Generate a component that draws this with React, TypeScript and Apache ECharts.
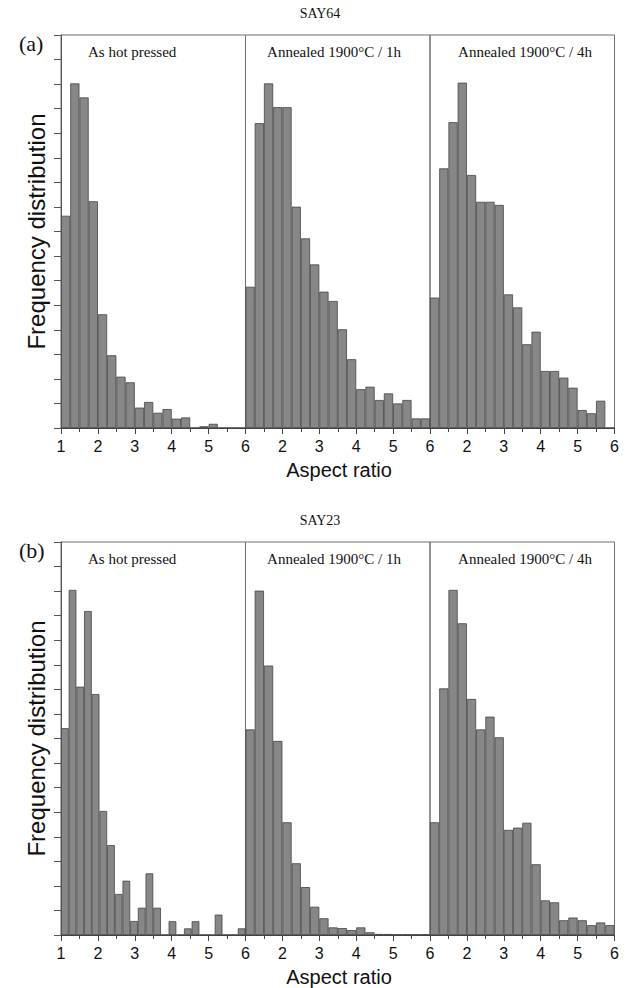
import React, { useEffect, useRef } from "react";
import * as echarts from "echarts";

// ---------- data ----------
const X_MIN = 1;
const X_MAX = 6;
const X_TICK_STEP = 1;
const Y_MAX = 16; // tick intervals on the frequency axis (no labels)

const sampleNames = ["SAY64", "SAY23"];
const panelLetters = ["(a)", "(b)"];
const panelTitles = ["As hot pressed", "Annealed 1900°C / 1h", "Annealed 1900°C / 4h"];
const xAxisName = "Aspect ratio";
const yAxisName = "Frequency distribution";

// bin widths per panel (aspect-ratio units)
const binWidthsA = [0.25, 0.25, 0.25];
const binWidthsB = [5 / 24, 0.25, 0.25];

// SAY64 (a)
const a_hotPressed = [8.64, 14.03, 13.46, 9.23, 4.63, 2.96, 2.09, 1.86, 0.83, 1.06, 0.62, 0.77, 0.38, 0.43, 0, 0.07, 0.17, 0, 0, 0];
const a_annealed1h = [5.75, 12.41, 14.03, 13.06, 13.06, 9.01, 7.72, 6.66, 5.55, 5.17, 4.02, 2.8, 1.58, 1.68, 1.14, 1.41, 1.0, 1.14, 0.39, 0.39];
const a_annealed4h = [5.31, 10.57, 12.45, 14.06, 10.3, 9.21, 9.21, 9.08, 5.44, 4.91, 3.41, 3.92, 2.32, 2.32, 2.05, 1.64, 0.73, 0.6, 1.11, 0];

// SAY23 (b)
const b_hotPressed = [8.42, 14.05, 10.11, 13.19, 9.81, 5.05, 3.66, 1.67, 2.21, 0.57, 1.11, 2.51, 1.11, 0, 0.56, 0, 0.27, 0.56, 0, 0, 0.83, 0, 0, 0.27];
const b_annealed1h = [8.37, 14.02, 10.97, 7.9, 4.59, 2.92, 1.95, 1.15, 0.68, 0.31, 0.28, 0.2, 0.31, 0.11, 0.04, 0.04, 0.02, 0.02, 0.02, 0.02];
const b_annealed4h = [4.59, 10.04, 14.05, 12.69, 9.61, 8.37, 8.89, 8.05, 4.28, 4.37, 4.57, 2.88, 1.41, 1.33, 0.6, 0.71, 0.6, 0.4, 0.51, 0.4];

const rowsData = [
  [a_hotPressed, a_annealed1h, a_annealed4h],
  [b_hotPressed, b_annealed1h, b_annealed4h],
];
const rowsBinWidths = [binWidthsA, binWidthsB];

// ---------- layout ----------
const PANEL_LEFT = [61, 245.5, 430];
const PANEL_W = 184.5;
const ROW_TOP = [35, 542];
const ROW_H = 393;

const SANS = "'Liberation Sans', Arial, sans-serif";
const SERIF = "'Liberation Serif', 'Times New Roman', serif";

function binLabels(n: number, w: number) {
  return Array.from({ length: n }, (_, i) => (X_MIN + i * w).toFixed(3));
}

export default function App() {
  const ref = useRef<HTMLDivElement>(null);

  useEffect(() => {
    if (!ref.current) return;
    const chart = echarts.init(ref.current, null, { renderer: "svg" });

    const grid: any[] = [];
    const xAxis: any[] = [];
    const yAxis: any[] = [];
    const series: any[] = [];
    const graphic: any[] = [];

    rowsData.forEach((row, r) => {
      row.forEach((vals, p) => {
        const g = r * 3 + p;
        grid.push({
          left: PANEL_LEFT[p],
          top: ROW_TOP[r],
          width: PANEL_W,
          height: ROW_H,
          show: true,
          borderColor: "#6e6e6e",
          borderWidth: 1,
          backgroundColor: "transparent",
        });
        xAxis.push({
          gridIndex: g,
          type: "category",
          data: binLabels(vals.length, rowsBinWidths[r][p]),
          show: false,
          boundaryGap: true,
        });
        xAxis.push({
          gridIndex: g,
          type: "value",
          min: X_MIN,
          max: X_MAX,
          interval: X_TICK_STEP,
          position: "bottom",
          axisLine: { show: true, lineStyle: { color: "#444", width: 1 } },
          axisTick: { show: true, length: 6, lineStyle: { color: "#444" } },
          minorTick: { show: true, splitNumber: 2, length: 4, lineStyle: { color: "#444" } },
          splitLine: { show: false },
          axisLabel: {
            show: true,
            showMinLabel: p === 0,
            fontSize: 16,
            color: "#111",
            fontFamily: SANS,
            margin: 10,
          },
        });
        yAxis.push({
          gridIndex: g,
          type: "value",
          min: 0,
          max: Y_MAX,
          interval: 1,
          show: p === 0,
          axisLine: { show: true, lineStyle: { color: "#555", width: 1 } },
          axisTick: { show: true, length: 7, lineStyle: { color: "#555" } },
          axisLabel: { show: false },
          splitLine: { show: false },
        });
        series.push({
          type: "bar",
          xAxisIndex: 2 * g,
          yAxisIndex: g,
          data: vals,
          barCategoryGap: "0%",
          barGap: "0%",
          itemStyle: { color: "#878787", borderColor: "#454545", borderWidth: 0.8 },
          silent: true,
        });
      });

      const top = ROW_TOP[r];
      graphic.push({
        type: "text",
        x: 320,
        y: top - 22,
        style: { text: sampleNames[r], font: `14px ${SERIF}`, fill: "#111", textAlign: "center", textVerticalAlign: "middle" },
      });
      graphic.push({
        type: "text",
        x: 19,
        y: top + 8,
        style: { text: panelLetters[r], font: `22px ${SERIF}`, fill: "#111", textAlign: "left", textVerticalAlign: "middle" },
      });
      graphic.push({
        type: "text",
        x: 88,
        y: top + 17,
        style: { text: panelTitles[0], font: `15px ${SERIF}`, fill: "#111", textAlign: "left", textVerticalAlign: "middle" },
      });
      graphic.push({
        type: "text",
        x: 334,
        y: top + 17,
        style: { text: panelTitles[1], font: `15px ${SERIF}`, fill: "#111", textAlign: "center", textVerticalAlign: "middle" },
      });
      graphic.push({
        type: "text",
        x: 525,
        y: top + 17,
        style: { text: panelTitles[2], font: `15px ${SERIF}`, fill: "#111", textAlign: "center", textVerticalAlign: "middle" },
      });
      graphic.push({
        type: "text",
        x: 339,
        y: top + ROW_H + 42,
        style: { text: xAxisName, font: `20px ${SANS}`, fill: "#111", textAlign: "center", textVerticalAlign: "middle" },
      });
      graphic.push({
        type: "text",
        x: 36,
        y: top + ROW_H / 2,
        rotation: Math.PI / 2,
        style: { text: yAxisName, font: `24px ${SANS}`, fill: "#111", textAlign: "center", textVerticalAlign: "middle" },
      });
    });

    chart.setOption({
      animation: false,
      backgroundColor: "#ffffff",
      grid,
      xAxis,
      yAxis,
      series,
      graphic,
    });

    return () => chart.dispose();
  }, []);

  return (
    <div
      ref={ref}
      style={{ position: "absolute", left: 0, top: 0, width: 626, height: 988, background: "#fff" }}
    />
  );
}
